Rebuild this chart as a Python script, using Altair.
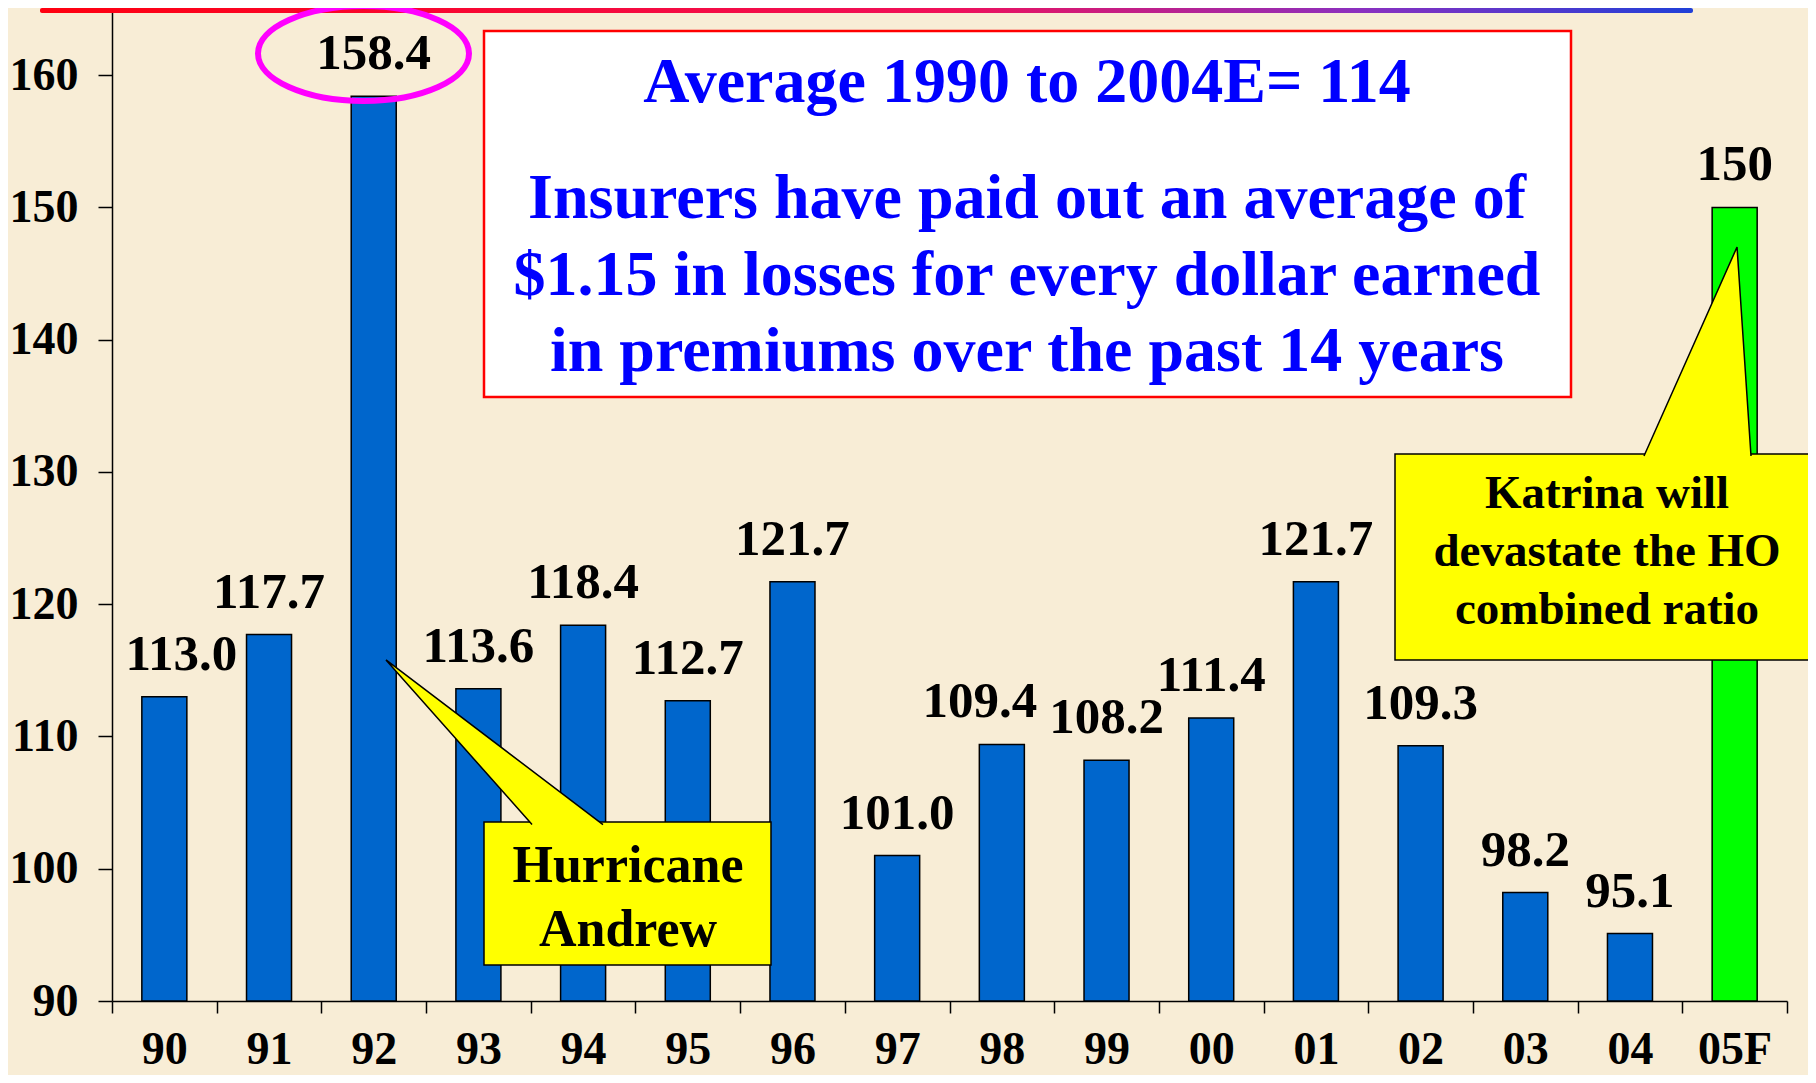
import altair as alt
import pandas as pd

# ---- data ----
years = ["90", "91", "92", "93", "94", "95", "96", "97", "98", "99",
         "00", "01", "02", "03", "04", "05F"]
ratios = [113.0, 117.7, 158.4, 113.6, 118.4, 112.7, 121.7, 101.0, 109.4,
          108.2, 111.4, 121.7, 109.3, 98.2, 95.1, 150.0]
value_labels = ["113.0", "117.7", "158.4", "113.6", "118.4", "112.7", "121.7",
                "101.0", "109.4", "108.2", "111.4", "121.7", "109.3", "98.2",
                "95.1", "150"]
y_ticks = [90, 100, 110, 120, 130, 140, 150, 160]

box_lines = ["Average 1990 to 2004E= 114",
             "Insurers have paid out an average of",
             "$1.15 in losses for every dollar earned",
             "in premiums over the past 14 years"]
andrew_lines = ["Hurricane", "Andrew"]
katrina_lines = ["Katrina will", "devastate the HO", "combined ratio"]

FONT = "Liberation Serif"
W, H = 1675, 992

df = pd.DataFrame({"year": years, "ratio": ratios, "label": value_labels})

x_enc = alt.X("year:N", sort=years,
              scale=alt.Scale(paddingInner=0, paddingOuter=0),
              axis=alt.Axis(title=None, labelAngle=0, labelFont=FONT,
                            labelFontSize=46, labelFontWeight="bold",
                            labelColor="black", labelBaseline="alphabetic",
                            labelPadding=50, tickBand="extent", tickSize=12,
                            tickColor="black", tickWidth=1.5,
                            domainColor="black", domainWidth=1.5, grid=False))
y_enc = alt.Y("ratio:Q", stack=None,
              scale=alt.Scale(domain=[90, 165], nice=False, zero=False),
              axis=alt.Axis(title=None, values=y_ticks, labelFont=FONT,
                            labelFontSize=46, labelFontWeight="bold",
                            labelColor="black", labelPadding=20, tickSize=14,
                            tickColor="black", tickWidth=1.5,
                            domainColor="black", domainWidth=1.5, grid=False))

base = alt.Chart(df)

bars = base.mark_bar(width=alt.RelativeBandSize(0.43), stroke="black",
                     strokeWidth=1.5).encode(
    x=x_enc, y=y_enc, y2=alt.datum(90),
    color=alt.condition(alt.datum.year == "05F", alt.value("#00FF00"),
                        alt.value("#0066CC")))

def val_text(dx=0):
    return base.mark_text(font=FONT, fontSize=51, fontWeight="bold",
                          color="black", baseline="middle", dy=-42, dx=dx)

labels_main = val_text().encode(x=alt.X("year:N", sort=years), y="ratio:Q",
                                text="label:N").transform_filter(
    "datum.year != '90' && datum.year != '98'")
labels_90 = val_text(17).encode(x=alt.X("year:N", sort=years), y="ratio:Q",
                                text="label:N").transform_filter("datum.year == '90'")
labels_98 = val_text(-22).encode(x=alt.X("year:N", sort=years), y="ratio:Q",
                                 text="label:N").transform_filter("datum.year == '98'")

one = alt.Data(values=[{"a": 1}])

def rect(x1, x2, y1, y2, **kw):
    return alt.Chart(one).mark_rect(**kw).encode(
        x=alt.value(x1), x2=alt.value(x2), y=alt.value(y1), y2=alt.value(y2))

def txt(s, xp, yp, size, color="black"):
    return alt.Chart(one).mark_text(text=s, font=FONT, fontSize=size,
                                    fontWeight="bold", color=color,
                                    align="center", baseline="middle").encode(
        x=alt.value(xp), y=alt.value(yp))

def shape(path, xp, yp, size, **kw):
    return alt.Chart(one).mark_point(shape=path, size=size, opacity=1,
                                     **kw).encode(x=alt.value(xp), y=alt.value(yp))

# top gradient strip
grad = alt.Gradient(gradient="linear", x1=0, x2=1, y1=0, y2=0,
                    stops=[alt.GradientStop(color="#FF0010", offset=0),
                           alt.GradientStop(color="#F0105A", offset=0.55),
                           alt.GradientStop(color="#8A30C0", offset=0.8),
                           alt.GradientStop(color="#2040D8", offset=1)])
strip = rect(-72, 1581, -1, 4, fill=grad, cornerRadius=2)

# info box
info_box = rect(372, 1459, 22, 388, fill="white", stroke="#FF0000", strokeWidth=2.5)
info_texts = [txt(box_lines[0], 915, 74, 64, "#0000FF"),
              txt(box_lines[1], 915, 190, 64, "#0000FF"),
              txt(box_lines[2], 915, 267, 64, "#0000FF"),
              txt(box_lines[3], 915, 343, 64, "#0000FF")]

# Hurricane Andrew callout
andrew_box = rect(372, 659, 813, 956, fill="#FFFF00", stroke="black", strokeWidth=1.5)
andrew_ptr = shape("M 0.346 0.77 L -1 -0.747 L 1 0.77", 382.5, 732, 47089,
                   fill="#FFFF00", stroke="black", strokeWidth=1.5, filled=False)
andrew_texts = [txt(andrew_lines[0], 516, 857, 52),
                txt(andrew_lines[1], 516, 921, 52)]

# Katrina callout
katrina_box = rect(1283, 1730, 445, 651, fill="#FFFF00", stroke="black", strokeWidth=1.5)
katrina_ptr = shape("M -0.517 1.02 L 0.382 -1 L 0.517 1.02", 1585.5, 341.5, 42849,
                    fill="#FFFF00", stroke="black", strokeWidth=1.5, filled=False)
katrina_texts = [txt(katrina_lines[0], 1495, 485, 47),
                 txt(katrina_lines[1], 1495, 543, 47),
                 txt(katrina_lines[2], 1495, 601, 47)]

# magenta ellipse round the 1992 peak
ellipse = shape("M -1 0 A 1 0.45 0 1 1 1 0 A 1 0.45 0 1 1 -1 0 Z", 251.5, 44.5,
                44521, fill="transparent", stroke="#FF00FF", strokeWidth=6,
                filled=False)

chart = alt.layer(
    bars, labels_main, labels_90, labels_98, strip,
    info_box, *info_texts,
    andrew_box, andrew_ptr, *andrew_texts,
    katrina_box, katrina_ptr, *katrina_texts,
    ellipse,
).properties(
    width=W, height=H,
    autosize=alt.AutoSizeParams(type="none"),
    padding={"left": 104, "top": 1, "right": 21, "bottom": 74},
).configure(background="#F8EDD6").configure_view(stroke=None)

chart.save("out.html", embed_options={"renderer": "svg", "actions": False})
